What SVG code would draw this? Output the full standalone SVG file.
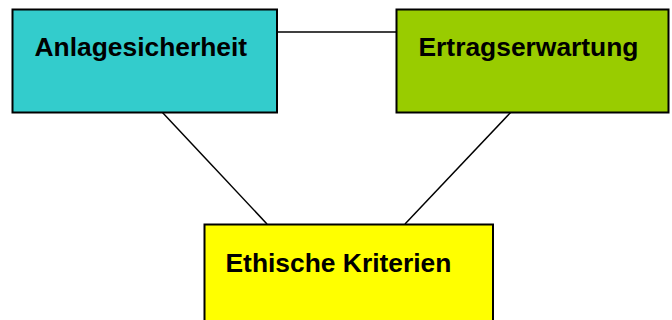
<svg xmlns="http://www.w3.org/2000/svg" width="672" height="320" viewBox="0 0 672 320">
<style>
.box{stroke:#000;stroke-width:2}
.lbl{font-family:"Liberation Sans",Arial,sans-serif;font-weight:bold;font-size:26.4px;fill:#000}
.conn{stroke:#000;stroke-width:1.5;fill:none}
</style>
<rect width="672" height="320" fill="#fff"/>
<g id="connectors">
<line class="conn" x1="277" y1="32" x2="396" y2="32"/>
<line class="conn" x1="162" y1="112" x2="267" y2="224"/>
<line class="conn" x1="511" y1="112" x2="405" y2="224"/>
</g>
<g id="anlagesicherheit">
<rect class="box" x="12.5" y="9.5" width="264.5" height="103" fill="#33CCCC"/>
<text class="lbl" x="34.5" y="55.5">Anlagesicherheit</text>
</g>
<g id="ertragserwartung">
<rect class="box" x="396.5" y="9.5" width="272" height="103" fill="#99CC00"/>
<text class="lbl" x="418.5" y="55.5">Ertragserwartung</text>
</g>
<g id="ethische">
<rect class="box" x="204.5" y="224.5" width="288.5" height="110" fill="#FFFF00"/>
<text class="lbl" x="225.5" y="272">Ethische Kriterien</text>
</g>
</svg>
